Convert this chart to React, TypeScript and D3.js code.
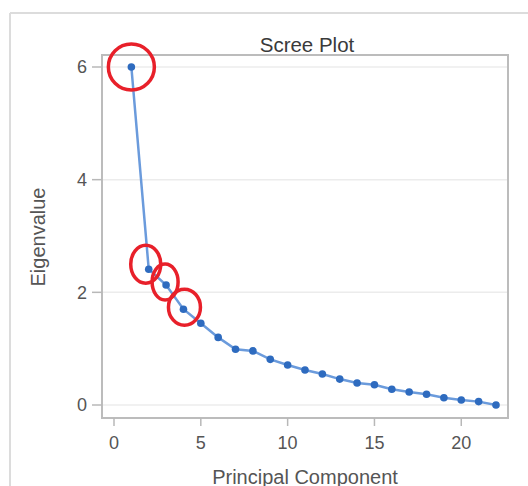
import React from "react";
import * as d3 from "d3";

const components = [1, 2, 3, 4, 5, 6, 7, 8, 9, 10, 11, 12, 13, 14, 15, 16, 17, 18, 19, 20, 21, 22];
const eigenvalues = [6.0, 2.41, 2.13, 1.7, 1.45, 1.2, 0.99, 0.96, 0.81, 0.71, 0.62, 0.55, 0.46, 0.39, 0.36, 0.28, 0.23, 0.19, 0.13, 0.09, 0.06, 0.0];
const xTicks = [0, 5, 10, 15, 20];
const yTicks = [0, 2, 4, 6];
const highlighted = [1, 2, 3, 4];
const highlightRx = [23, 15, 13, 16];
const highlightRy = [23, 19, 18, 18];
const highlightDx = [0, -3, -1, 1];
const highlightDy = [0, -5, -3, -2];

const W = 528;
const H = 486;
const left = 102, right = 508, top = 55, bottom = 418;

export default function App() {
  const x = d3.scaleLinear().domain([0, 22]).range([114, 496]);
  const y = d3.scaleLinear().domain([0, 6]).range([405, 67]);
  const line = d3
    .line<number>()
    .x((_, i) => x(components[i]))
    .y((d) => y(d));
  const font = "Arial, 'Liberation Sans', Helvetica, sans-serif";
  return (
    <svg
      width={W}
      height={H}
      style={{ position: "absolute", left: 0, top: 0, background: "#fff" }}
      fontFamily={font}
    >
      <rect x={0} y={0} width={W} height={H} fill="#fff" />
      {/* outer frame */}
      <line x1={10} y1={13} x2={W} y2={13} stroke="#dcdcdc" strokeWidth={2} />
      <line x1={10} y1={13} x2={10} y2={H} stroke="#dcdcdc" strokeWidth={2} />
      {/* title */}
      <text x={307} y={52} textAnchor="middle" fontSize={20.5} fill="#3a3a3a">
        Scree Plot
      </text>
      {/* gridlines */}
      {yTicks.map((t) => (
        <line key={"g" + t} x1={left} x2={right} y1={y(t)} y2={y(t)} stroke="#ececec" strokeWidth={1.5} />
      ))}
      {/* plot frame */}
      <rect x={left} y={top} width={right - left} height={bottom - top} fill="none" stroke="#bcbcbc" strokeWidth={2} />
      {/* y axis ticks */}
      {yTicks.map((t) => (
        <g key={"y" + t}>
          <line x1={92} x2={left} y1={y(t)} y2={y(t)} stroke="#b8b8b8" strokeWidth={1.5} />
          <text x={87} y={y(t)} dy="0.36em" textAnchor="end" fontSize={18} fill="#555">
            {t}
          </text>
        </g>
      ))}
      {/* x axis ticks */}
      {xTicks.map((t) => (
        <g key={"x" + t}>
          <line x1={x(t)} x2={x(t)} y1={bottom} y2={426} stroke="#b8b8b8" strokeWidth={1.5} />
          <text x={x(t)} y={443} dy="0.36em" textAnchor="middle" fontSize={18} fill="#555">
            {t}
          </text>
        </g>
      ))}
      {/* axis labels */}
      <text x={305} y={477} dy="0.36em" textAnchor="middle" fontSize={20} fill="#555">
        Principal Component
      </text>
      <text
        transform={`translate(38,237) rotate(-90)`}
        dy="0.36em"
        textAnchor="middle"
        fontSize={20}
        fill="#555"
      >
        Eigenvalue
      </text>
      {/* series */}
      <path d={line(eigenvalues) || ""} fill="none" stroke="#6b9bdc" strokeWidth={2.5} />
      {eigenvalues.map((v, i) => (
        <circle key={"p" + i} cx={x(components[i])} cy={y(v)} r={3.8} fill="#2e6bbf" />
      ))}
      {/* highlight circles */}
      {highlighted.map((c, i) => (
        <ellipse
          key={"h" + c}
          cx={x(c) + highlightDx[i]}
          cy={y(eigenvalues[c - 1]) + highlightDy[i]}
          rx={highlightRx[i]}
          ry={highlightRy[i]}
          fill="none"
          stroke="#e8202a"
          strokeWidth={3.5}
        />
      ))}
    </svg>
  );
}
